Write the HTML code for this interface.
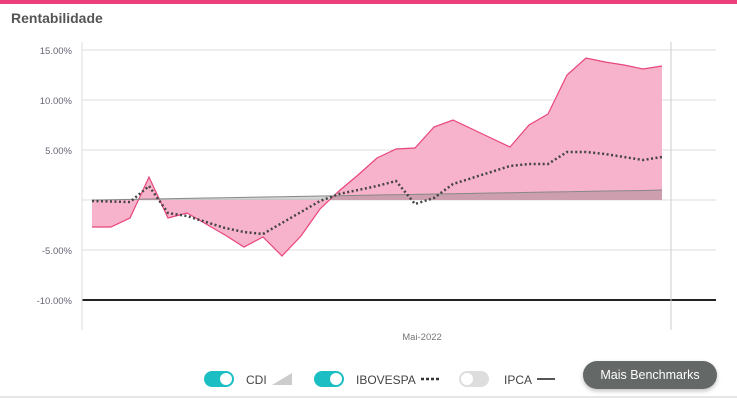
<!DOCTYPE html>
<html><head><meta charset="utf-8"><style>
body{margin:0;width:737px;height:401px;overflow:hidden;background:#fff;font-family:"Liberation Sans",sans-serif;position:relative}
.top{position:absolute;left:0;top:0;width:737px;height:4px;background:#ea3f7b}
.title{position:absolute;left:11px;top:10px;font-size:14px;font-weight:bold;color:#555}
.bottom{position:absolute;left:0;top:396px;width:737px;height:2px;background:#e6e6e6}
.tog{position:absolute;top:371px;width:30px;height:16px;border-radius:8px}
.tog i{position:absolute;top:2px;width:12px;height:12px;border-radius:50%;background:#fff}
.lbl{position:absolute;top:373px;font-size:12px;color:#444}
.btn{position:absolute;left:583px;top:361px;width:134px;height:28px;border-radius:14px;background:#646866;color:#fff;font-size:12.5px;line-height:28px;text-align:center;box-shadow:0 2px 4px rgba(0,0,0,.25)}
</style></head><body>
<div class="top"></div>
<div class="title">Rentabilidade</div>
<svg id="chart" width="737" height="401" style="position:absolute;left:0;top:0"></svg>
<div class="tog" style="left:204px;background:#1bbfc3"><i style="left:16px"></i></div>
<div class="lbl" style="left:246px">CDI</div>
<svg style="position:absolute;left:272px;top:373px" width="20" height="12"><polygon points="0,12 20,12 20,0" fill="#ccc"/></svg>
<div class="tog" style="left:314px;background:#1bbfc3"><i style="left:16px"></i></div>
<div class="lbl" style="left:356px">IBOVESPA</div>
<svg style="position:absolute;left:420px;top:376px" width="20" height="6"><line x1="1" y1="3" x2="20" y2="3" stroke="#333" stroke-width="2.5" stroke-dasharray="3,2"/></svg>
<div class="tog" style="left:459px;background:#ddd"><i style="left:2px"></i></div>
<div class="lbl" style="left:504px">IPCA</div>
<svg style="position:absolute;left:537px;top:376px" width="20" height="6"><line x1="0" y1="3" x2="18" y2="3" stroke="#555" stroke-width="2"/></svg>
<div class="btn">Mais Benchmarks</div>
<div class="bottom"></div>
<script>
const yTicks=[15,10,5,0,-5,-10];
const yTickLabels=["15.00%","10.00%","5.00%","","-5.00%","-10.00%"];
const portfolio=[-2.7,-2.7,-1.8,2.3,-1.8,-1.3,-2.4,-3.5,-4.7,-3.7,-5.6,-3.6,-0.9,0.9,2.5,4.2,5.1,5.2,7.3,8.0,7.1,6.2,5.3,7.5,8.6,12.5,14.2,13.8,13.5,13.1,13.4];
const ibovespa=[-0.1,-0.15,-0.2,1.4,-1.3,-1.6,-2.2,-2.8,-3.2,-3.4,-2.3,-1.2,-0.1,0.6,1.0,1.4,1.9,-0.4,0.2,1.6,2.2,2.8,3.4,3.6,3.6,4.8,4.8,4.6,4.3,4.0,4.3];
const cdi=[0,0.03,0.06,0.1,0.13,0.16,0.2,0.23,0.26,0.3,0.33,0.36,0.4,0.43,0.46,0.5,0.53,0.56,0.6,0.63,0.66,0.7,0.73,0.76,0.8,0.83,0.86,0.9,0.92,0.95,1.0];
const xLabel="Mai-2022";
const svg=document.getElementById('chart');
const NS='http://www.w3.org/2000/svg';
const y=v=>200-10*v;
const x=i=>92+i*(662-92)/(portfolio.length-1);
function mk(t,a){const e=document.createElementNS(NS,t);for(const k in a)e.setAttribute(k,a[k]);svg.appendChild(e);return e;}
yTicks.forEach((t,i)=>{
 const g=mk('line',{x1:82,x2:716,y1:y(t),y2:y(t),stroke:t===-10?'#222':'#ddd','stroke-width':t===-10?2:1});
 
 
 if(yTickLabels[i]){const tx=mk('text',{x:72,y:y(t)+4,'text-anchor':'end','font-size':9.5,fill:'#667','font-family':'Liberation Sans'});tx.textContent=yTickLabels[i];
 
 }
});
const ax=mk('line',{x1:82,x2:82,y1:42,y2:330,stroke:'#ddd'});


const vl=mk('line',{x1:671,x2:671,y1:42,y2:330,stroke:'#ccc'});


const xl=mk('text',{x:422,y:340,'text-anchor':'middle','font-size':9.5,fill:'#777','font-family':'Liberation Sans'});xl.textContent=xLabel;


function area(d){return 'M'+x(0)+','+y(0)+d.map((v,i)=>'L'+x(i)+','+y(v)).join('')+'L'+x(d.length-1)+','+y(0)+'Z';}
function line(d){return d.map((v,i)=>(i?'L':'M')+x(i)+','+y(v)).join('');}
const pa=mk('path',{d:area(portfolio),fill:'#f7b3cb'});


const pl=mk('path',{d:line(portfolio),fill:'none',stroke:'#e8457b','stroke-width':1.2});


const ca=mk('path',{d:area(cdi),fill:'rgba(110,110,110,0.3)'});


const cl=mk('path',{d:line(cdi),fill:'none',stroke:'#888','stroke-width':1});


const il=mk('path',{d:line(ibovespa),fill:'none',stroke:'#444','stroke-width':2.5,'stroke-dasharray':'2,2.5'});


</script>
</body></html>
